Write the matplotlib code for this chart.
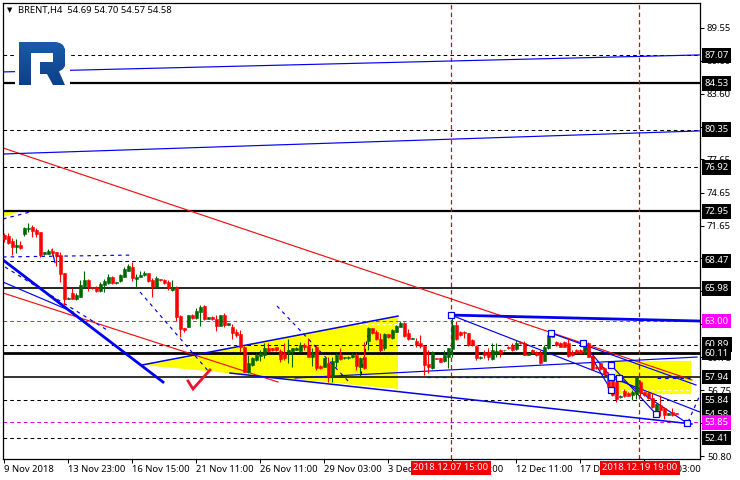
import matplotlib
matplotlib.use('Agg')
import matplotlib.pyplot as plt
from matplotlib.colors import LinearSegmentedColormap
from matplotlib.patches import Polygon, PathPatch
from matplotlib.path import Path
import numpy as np

opens = [70.81,70.72,70.30,69.76,69.91,70.87,71.35,71.51,71.26,71.05,
         69.06,69.09,69.33,69.24,69.00,67.40,65.02,65.53,65.02,65.23,
         66.19,66.71,66.07,66.07,65.77,66.28,66.43,66.98,66.43,66.65,
         67.04,67.58,67.91,66.86,67.04,67.16,67.34,66.74,66.07,66.80,
         66.74,66.59,65.83,66.13,63.48,62.36,62.51,63.57,63.27,63.87,
         64.38,63.24,63.42,63.18,62.60,63.57,62.69,62.45,62.03,61.82,
         60.70,58.41,59.03,59.49,59.85,59.94,60.60,60.54,60.63,60.33,
         60.15,60.09,60.33,60.39,60.33,60.85,60.75,59.79,60.69,58.94,
         58.88,59.25,57.98,59.28,59.94,59.64,59.64,59.73,59.94,58.88,
         59.73,61.24,62.35,62.05,61.36,60.54,61.81,61.45,62.05,62.51,
         62.87,61.90,61.42,61.18,61.00,60.75,59.13,58.73,59.64,59.64,
         59.40,59.79,60.48,62.66,61.99,61.99,61.90,61.30,60.75,59.64,
         60.24,60.24,59.55,60.15,60.39,60.36,60.69,60.85,60.45,61.15,
         61.06,59.94,60.39,60.24,60.09,59.43,60.54,61.90,61.15,61.06,
         61.15,61.00,60.24,60.39,60.39,60.09,61.00,59.85,58.88,59.19,
         58.73,58.22,57.98,57.53,56.11,56.71,56.47,56.32,56.41,57.53,
         56.62,56.53,56.02,54.81,55.41,55.11,54.51,54.81,54.69]
highs = [70.96,70.96,70.51,70.42,70.30,71.57,71.87,71.72,71.41,71.11,
         69.27,69.51,69.60,69.30,69.30,67.40,65.23,65.98,65.53,66.74,
         67.55,66.83,66.13,66.19,66.59,66.80,67.28,67.10,66.59,67.28,
         67.94,68.19,68.40,67.28,67.52,67.58,67.40,66.95,67.10,66.86,
         66.83,66.74,66.74,66.19,63.57,62.39,63.57,63.63,64.17,64.47,
         64.44,63.42,63.48,63.57,63.57,63.78,62.87,62.75,62.27,62.21,
         60.79,59.95,59.79,60.09,60.39,61.00,61.00,60.60,60.69,60.45,
         61.06,61.36,60.60,60.69,61.15,61.06,61.45,60.54,60.85,59.00,
         59.70,59.79,59.73,60.09,60.54,59.79,59.85,60.09,60.09,59.79,
         61.15,62.51,62.42,62.20,61.90,61.90,61.87,62.26,62.63,63.05,
         62.96,62.26,61.48,61.45,61.75,60.85,60.39,60.33,59.66,59.70,
         60.39,60.60,63.56,63.05,62.14,62.14,61.93,61.36,60.81,59.85,
         60.39,60.54,61.00,61.06,60.45,60.42,60.75,61.00,61.30,61.24,
         61.24,60.15,60.45,60.33,60.39,60.85,62.05,62.14,61.24,61.15,
         61.24,61.45,60.39,60.45,60.45,61.15,61.15,59.94,58.94,59.25,
         58.88,58.43,58.04,57.59,56.32,56.83,56.62,56.77,58.04,57.68,
         56.71,56.62,56.47,55.56,56.32,55.20,54.69,55.17,54.70]
lows = [70.21,70.00,69.00,69.15,69.51,70.75,71.11,70.66,70.60,68.79,
        69.00,69.06,69.00,68.03,66.59,64.47,64.99,64.99,64.93,65.17,
        65.98,65.77,65.89,65.68,65.68,65.68,66.37,66.37,66.40,66.59,
        66.98,67.52,66.65,65.98,66.98,67.10,66.59,65.23,66.01,66.68,
        66.37,65.83,65.77,63.05,61.61,62.06,62.48,63.24,63.21,62.57,
        63.12,63.21,63.12,62.15,62.57,62.51,62.66,61.37,61.55,60.25,
        58.38,58.35,58.97,59.43,59.43,59.64,60.24,60.33,60.33,59.34,
        59.49,59.19,58.88,60.36,60.30,60.39,59.73,58.97,58.58,58.64,
        58.82,57.53,57.53,58.88,59.49,59.61,59.61,59.70,58.58,57.92,
        58.64,60.39,61.84,61.30,60.24,60.39,61.48,61.42,61.99,62.48,
        61.60,61.30,61.39,60.69,60.54,58.13,58.34,58.70,59.56,59.28,
        59.34,58.73,59.79,61.30,61.69,61.45,60.79,60.79,59.49,59.61,
        59.64,59.49,59.52,59.79,59.73,60.33,60.48,60.33,60.39,60.94,
        59.94,59.91,60.09,59.88,59.13,59.40,60.48,61.54,60.79,60.63,
        60.63,59.79,59.88,60.09,60.03,60.03,59.73,58.58,58.67,58.58,
        58.16,57.01,56.26,55.72,56.08,56.17,56.20,55.87,55.93,56.17,
        56.26,55.96,55.14,54.51,54.42,54.12,54.48,54.45,54.57]
closes = [70.42,70.12,69.76,69.91,69.60,71.44,71.48,71.20,70.87,69.00,
          69.27,69.36,69.15,68.91,67.28,65.02,65.14,65.02,65.35,66.25,
          66.74,66.07,65.98,65.77,66.37,66.65,67.04,66.43,66.56,67.19,
          67.70,68.00,66.89,67.01,67.22,67.40,66.65,66.07,66.89,66.74,
          66.43,65.98,66.07,63.42,62.33,62.21,63.54,63.30,63.93,64.32,
          63.18,63.39,63.18,62.57,63.54,62.66,62.81,61.91,61.79,60.70,
          58.38,59.25,59.64,59.94,60.15,60.54,60.33,60.39,60.39,59.55,
          59.64,60.39,60.54,60.60,60.85,60.69,59.79,60.09,58.73,58.73,
          59.64,57.98,59.43,59.94,59.55,59.73,59.79,59.94,58.94,59.64,
          58.73,62.42,61.90,61.36,60.39,61.84,61.54,62.20,62.57,62.87,
          61.66,61.36,61.45,60.85,60.75,59.03,58.88,60.24,59.58,59.34,
          59.94,60.54,62.66,61.36,61.75,61.90,60.85,60.85,59.64,59.79,
          59.94,59.79,60.39,60.33,60.09,60.39,60.54,60.39,61.06,61.00,
          59.94,60.09,60.15,59.94,59.19,60.69,61.75,61.60,60.85,60.69,
          60.69,59.85,59.94,60.15,60.09,61.00,59.79,58.64,58.73,58.64,
          58.22,57.07,56.32,55.93,56.26,56.23,56.26,56.62,57.92,56.53,
          56.32,56.02,55.20,55.50,54.96,54.51,54.66,54.51,54.58]

y_ticks = [89.55, 86.60, 83.60, 80.60, 77.65, 74.65, 71.65, 68.70, 65.70, 62.75, 59.75, 56.75, 53.80, 50.80]
x_ticks = [0, 16, 32, 48, 64, 80, 96, 112, 128, 144, 160]
x_labels = ['9 Nov 2018', '13 Nov 23:00', '16 Nov 15:00', '21 Nov 11:00', '26 Nov 11:00', '29 Nov 03:00',
            '3 Dec 19:00', '7 Dec 15:00', '12 Dec 11:00', '17 Dec 07:00', '20 Dec 03:00']

# horizontal levels: price, width, style
solid_levels = [(84.53, 2.0), (72.95, 2.0), (65.98, 1.5), (60.11, 2.5), (57.94, 1.4)]
dashed_levels = [87.07, 80.35, 76.92, 68.47, 60.89, 55.84, 52.41]
magenta_levels = [63.00, 53.85]
black_tags = [87.07, 84.53, 80.35, 76.92, 72.95, 68.47, 65.98, 60.89, 60.11, 57.94, 55.84, 54.58, 52.41]
magenta_tags = [63.00, 53.85]

# trend lines: (bar, price), (bar, price)
red_lines = [((-0.25, 78.69), (172, 57.68)), ((-0.25, 65.56), (68.5, 57.50))]
blue_lines = [((-0.25, 85.57), (174, 87.11)), ((-0.25, 78.14), (174, 80.23)),
              ((-0.25, 66.55), (17.25, 63.84)), ((12, 69.45), (12.75, 68.3)),
              ((72.75, 57.86), (173.25, 59.76)),
              ((111.75, 63.56), (174, 54.78)), ((136.75, 61.93), (173, 57.23)),
              ((144.75, 61.03), (151.75, 56.77)), ((144.75, 61.03), (151.75, 57.95)),
              ((151.75, 59.04), (163, 54.60)), ((153.75, 57.86), (170.75, 53.79))]
medium_blue_lines = [((34.5, 59.04), (98.5, 63.47)), ((56.5, 58.31), (172, 53.70))]
thick_blue_lines = [((-0.25, 68.55), (39.75, 57.50)), ((111.75, 63.56), (174, 63.02))]
dashed_blue_lines = [((0.25, 67.91), (25.75, 62.21)), ((-0.25, 68.82), (32, 68.99)),
                     ((34, 65.65), (51.5, 58.31)), ((68.25, 64.38), (86.5, 57.41)),
                     ((-0.25, 72.26), (6.5, 72.89)), ((-0.25, 73.05), (0.75, 72.96)),
                     ((171, 53.88), (174, 56.33)), ((105.75, 57.98), (139, 57.98)),
                     ((163.25, 57.86), (171.5, 57.86))]
black_dash_lines = [((89.25, 58.13), (91, 61.75))]

triangle_big = [(34.5, 59.04), (98.5, 63.47), (98.5, 56.87)]
triangle_small = [(-0.25, 73.00), (-0.25, 72.44), (3.5, 72.80)]
yellow_box = [(152.75, 59.40), (171.75, 59.40), (171.75, 56.41), (153.5, 56.41), (152.75, 56.77)]

square_bars = [111.75, 136.75, 144.75, 151.75, 151.75, 151.75, 153.75, 163, 170.75]
square_prices = [63.56, 61.93, 61.03, 59.04, 57.95, 56.77, 57.86, 54.60, 53.79]

vline_bars = [111.75, 158.75]
time_tags = [(111.75, '2018.12.07 15:00'), (158.9, '2018.12.19 19:00')]

check_bars = [46.0, 47.25, 51.5]
check_prices = [57.59, 56.87, 58.59]

# logo outline in image pixels
logo_px = [(19, 42), (56, 42), (60, 43), (63, 45), (65, 49), (65, 66), (63, 69), (59, 71.5), (65, 85), (53, 85),
           (47, 74), (40, 74), (40, 62), (53, 62), (53, 53), (31, 53), (31, 85), (19, 85)]

W, H = 740, 480
plt.rcParams['font.family'] = ['Noto Sans', 'DejaVu Sans']
plt.rcParams['font.size'] = 6.8

fig = plt.figure(figsize=(W / 100, H / 100), dpi=100)
ax = fig.add_axes([3 / W, 1 - 459 / H, 697 / W, 456 / H])
ax.set_xlim(-0.25, 174)
ax.set_ylim(50.53, 91.81)

ax.grid(True, axis='y', color='white', linestyle=(0, (3, 3)), linewidth=0.7)

for poly in (triangle_big, triangle_small, yellow_box):
    ax.add_patch(Polygon(poly, closed=True, facecolor='#ffff00', edgecolor='none', zorder=1))

for price, lw in solid_levels:
    ax.axhline(price, color='black', linewidth=lw * 0.8, zorder=2)
for price in dashed_levels:
    ax.axhline(price, color='black', linewidth=0.75, linestyle=(0, (3.5, 3)), zorder=2)
for price in magenta_levels:
    ax.axhline(price, color='#e000e0', linewidth=0.75, linestyle=(0, (3.5, 3)), zorder=2)

for bar in vline_bars:
    ax.axvline(bar, color='#e00000', linewidth=0.9, linestyle=(0, (3.5, 2.5)), zorder=2)

for a, b in red_lines:
    ax.plot([a[0], b[0]], [a[1], b[1]], color='#f01010', linewidth=0.85, zorder=2.2)
for a, b in blue_lines:
    ax.plot([a[0], b[0]], [a[1], b[1]], color='#0000f0', linewidth=0.85, zorder=2.2)
for a, b in medium_blue_lines:
    ax.plot([a[0], b[0]], [a[1], b[1]], color='#0000f0', linewidth=1.1, zorder=2.2)
for a, b in thick_blue_lines:
    ax.plot([a[0], b[0]], [a[1], b[1]], color='#0000f0', linewidth=2.0, zorder=2.2)
for a, b in dashed_blue_lines:
    ax.plot([a[0], b[0]], [a[1], b[1]], color='#0000f0', linewidth=0.85, linestyle=(0, (3, 3.5)), zorder=2.2)
for a, b in black_dash_lines:
    ax.plot([a[0], b[0]], [a[1], b[1]], color='black', linewidth=0.85, linestyle=(0, (3, 3.5)), zorder=2.2)

# candles
bars = np.arange(len(closes))
o = np.array(opens)
c = np.array(closes)
up = c >= o
colors = np.where(up, '#006400', '#ff0000')
ax.vlines(bars, lows, highs, colors=colors, linewidth=0.8, zorder=3)
ax.bar(bars, np.maximum(np.abs(c - o), 0.08), bottom=np.minimum(o, c), width=0.75, color=colors,
       edgecolor=colors, linewidth=0.4, zorder=3.1)

ax.scatter(square_bars, square_prices, marker='s', s=20, facecolors='white', edgecolors='#0000f0',
           linewidths=0.9, zorder=4)
ax.plot(check_bars, check_prices, color='#f01030', linewidth=2.0, zorder=4, solid_joinstyle='miter')

ax.yaxis.tick_right()
ax.set_yticks(y_ticks)
ax.set_xticks(x_ticks)
ax.set_xticklabels(x_labels, ha='left')
ax.tick_params(axis='y', length=3, width=0.75, pad=2.0, colors='black')
ax.tick_params(axis='x', length=3, width=0.75, pad=1.0, colors='black')
for spine in ax.spines.values():
    spine.set_linewidth(0.9)

# price tags over the axis
ytrans = ax.get_yaxis_transform()
for price in black_tags:
    ax.text(1 + 4.5 / 697, price, '%.2f' % price, transform=ytrans, color='white', va='center', ha='left',
            bbox=dict(facecolor='black', edgecolor='none', pad=2.0), clip_on=False, zorder=6)
for price in magenta_tags:
    ax.text(1 + 4.5 / 697, price, '%.2f' % price, transform=ytrans, color='white', va='center', ha='left',
            bbox=dict(facecolor='#ff00ff', edgecolor='none', pad=2.0), clip_on=False, zorder=6)

# time tags over the axis
xtrans = ax.get_xaxis_transform()
for bar, label in time_tags:
    ax.text(bar, -9 / 456, label, transform=xtrans, color='white', va='center', ha='center',
            bbox=dict(facecolor='#f00000', edgecolor='none', pad=1.8), clip_on=False, zorder=6)

# header
fig.text(18 / W, 1 - 10.5 / H, 'BRENT,H4  54.69 54.70 54.57 54.58', color='black', va='center', ha='left')
fig.text(9.5 / W, 1 - 10.5 / H, '\u25bc', color='black', va='center', ha='center', fontsize=5)

# logo with gradient on a small white patch
bg_ax = fig.add_axes([15 / W, 1 - 90 / H, 55 / W, 52 / H], zorder=4)
bg_ax.set_xticks([])
bg_ax.set_yticks([])
for spine in bg_ax.spines.values():
    spine.set_visible(False)

logo_ax = fig.add_axes([19 / W, 1 - 85 / H, 46 / W, 43 / H], zorder=5)
logo_ax.set_axis_off()
logo_ax.set_xlim(19, 65)
logo_ax.set_ylim(85, 42)
grad = np.linspace(0, 1, 64).reshape(-1, 1)
img = logo_ax.imshow(grad, extent=(19, 65, 85, 42), aspect='auto',
                     cmap=LinearSegmentedColormap.from_list('logo', ['#1a5ca8', '#0c3f8a']))
logo_path = PathPatch(Path(logo_px + [logo_px[0]], closed=True), transform=logo_ax.transData,
                      facecolor='none', edgecolor='none')
logo_ax.add_patch(logo_path)
img.set_clip_path(logo_path)

fig.savefig('out.png', dpi=100)
